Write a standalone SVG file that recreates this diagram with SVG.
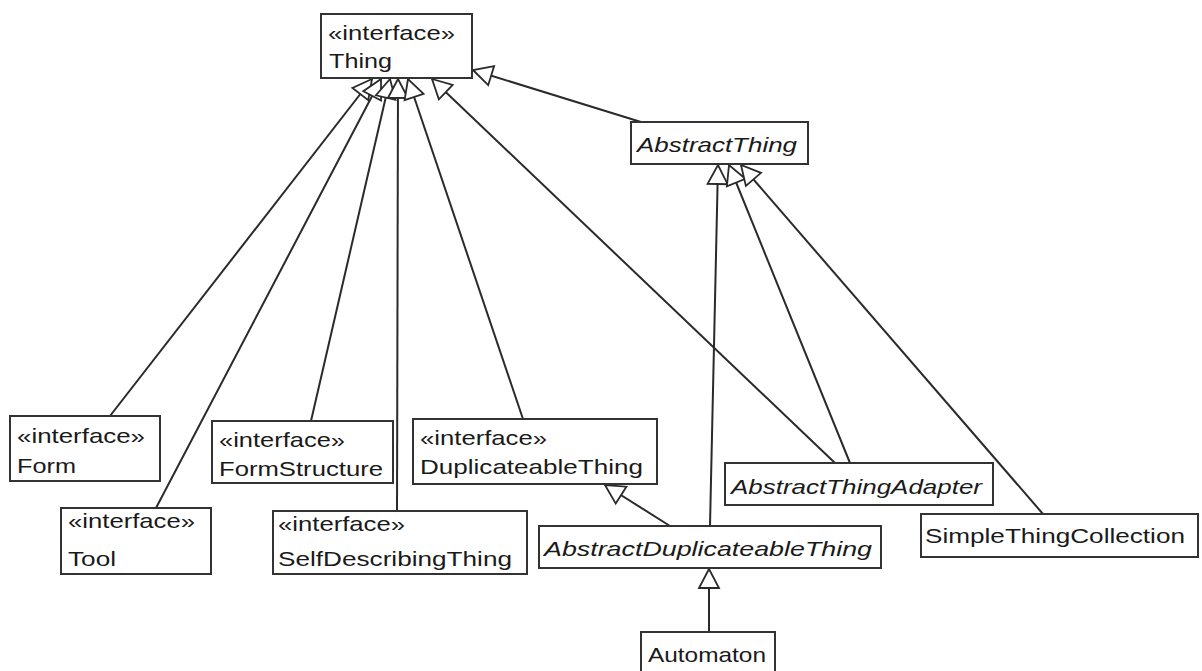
<svg xmlns="http://www.w3.org/2000/svg" width="1202" height="671" viewBox="0 0 1202 671">
  <style>
    .box { fill: #ffffff; stroke: #333333; stroke-width: 2; }
    .lbl { font-family: "Liberation Sans", Arial, sans-serif; font-size: 21px; fill: #1a1a1a; }
    .abs { font-style: italic; }
    .edge { fill: none; stroke: #2a2a2a; stroke-width: 2; }
  </style>
  <defs>
    <!-- hollow generalization / realization arrowhead -->
    <marker id="gen" markerUnits="userSpaceOnUse" viewBox="-22 -12 24 24" markerWidth="24" markerHeight="24" refX="0" refY="0" orient="auto">
      <path d="M0,0 L-19,-10 L-19,10 Z" fill="#ffffff" stroke="#2a2a2a" stroke-width="1.8" stroke-linejoin="miter"/>
    </marker>
  </defs>
  <rect width="1202" height="671" fill="#ffffff"/>

  <!-- inheritance connectors -->
  <g id="connectors">
    <line class="edge" x1="110" y1="416" x2="372" y2="79" marker-end="url(#gen)"/>
    <line class="edge" x1="156" y1="508" x2="381" y2="79" marker-end="url(#gen)"/>
    <line class="edge" x1="311" y1="421" x2="390" y2="79" marker-end="url(#gen)"/>
    <line class="edge" x1="397" y1="511" x2="398" y2="79" marker-end="url(#gen)"/>
    <line class="edge" x1="523" y1="419" x2="408" y2="79" marker-end="url(#gen)"/>
    <line class="edge" x1="835" y1="463" x2="432" y2="79" marker-end="url(#gen)"/>
    <line class="edge" x1="641" y1="122" x2="473" y2="70" marker-end="url(#gen)"/>
    <line class="edge" x1="710" y1="526" x2="718" y2="165" marker-end="url(#gen)"/>
    <line class="edge" x1="850" y1="463" x2="729" y2="165" marker-end="url(#gen)"/>
    <line class="edge" x1="1043" y1="514" x2="741" y2="165" marker-end="url(#gen)"/>
    <line class="edge" x1="670" y1="526" x2="605" y2="485" marker-end="url(#gen)"/>
    <line class="edge" x1="709" y1="632" x2="709" y2="569" marker-end="url(#gen)"/>
  </g>

  <g id="Thing">
    <rect class="box" x="321" y="14" width="151" height="64"/>
    <text class="lbl" x="328" y="40" textLength="127" lengthAdjust="spacingAndGlyphs">«interface»</text>
    <text class="lbl" x="329" y="68" textLength="63" lengthAdjust="spacingAndGlyphs">Thing</text>
  </g>

  <g id="AbstractThing">
    <rect class="box" x="631" y="122" width="177" height="42"/>
    <text class="lbl abs" x="637" y="152" textLength="160" lengthAdjust="spacingAndGlyphs">AbstractThing</text>
  </g>

  <g id="Form">
    <rect class="box" x="10" y="416" width="150" height="65"/>
    <text class="lbl" x="17" y="443" textLength="128" lengthAdjust="spacingAndGlyphs">«interface»</text>
    <text class="lbl" x="17" y="473" textLength="59" lengthAdjust="spacingAndGlyphs">Form</text>
  </g>

  <g id="FormStructure">
    <rect class="box" x="212" y="421" width="181" height="62"/>
    <text class="lbl" x="219" y="447" textLength="126" lengthAdjust="spacingAndGlyphs">«interface»</text>
    <text class="lbl" x="219" y="476" textLength="164" lengthAdjust="spacingAndGlyphs">FormStructure</text>
  </g>

  <g id="Tool">
    <rect class="box" x="61" y="508" width="150" height="66"/>
    <text class="lbl" x="68" y="528" textLength="127" lengthAdjust="spacingAndGlyphs">«interface»</text>
    <text class="lbl" x="68" y="566" textLength="48" lengthAdjust="spacingAndGlyphs">Tool</text>
  </g>

  <g id="SelfDescribingThing">
    <rect class="box" x="273" y="511" width="254" height="63"/>
    <text class="lbl" x="278" y="531" textLength="127" lengthAdjust="spacingAndGlyphs">«interface»</text>
    <text class="lbl" x="278" y="566" textLength="234" lengthAdjust="spacingAndGlyphs">SelfDescribingThing</text>
  </g>

  <g id="DuplicateableThing">
    <rect class="box" x="413" y="419" width="244" height="65"/>
    <text class="lbl" x="420" y="445" textLength="127" lengthAdjust="spacingAndGlyphs">«interface»</text>
    <text class="lbl" x="420" y="474" textLength="223" lengthAdjust="spacingAndGlyphs">DuplicateableThing</text>
  </g>

  <g id="AbstractThingAdapter">
    <rect class="box" x="725" y="463" width="268" height="42"/>
    <text class="lbl abs" x="731" y="494" textLength="251" lengthAdjust="spacingAndGlyphs">AbstractThingAdapter</text>
  </g>

  <g id="AbstractDuplicateableThing">
    <rect class="box" x="539" y="526" width="342" height="42"/>
    <text class="lbl abs" x="544" y="556" textLength="328" lengthAdjust="spacingAndGlyphs">AbstractDuplicateableThing</text>
  </g>

  <g id="SimpleThingCollection">
    <rect class="box" x="921" y="514" width="277" height="43"/>
    <text class="lbl" x="925" y="543" textLength="260" lengthAdjust="spacingAndGlyphs">SimpleThingCollection</text>
  </g>

  <g id="Automaton">
    <rect class="box" x="641" y="632" width="134" height="44"/>
    <text class="lbl" x="648" y="662" textLength="118" lengthAdjust="spacingAndGlyphs">Automaton</text>
  </g>
</svg>
